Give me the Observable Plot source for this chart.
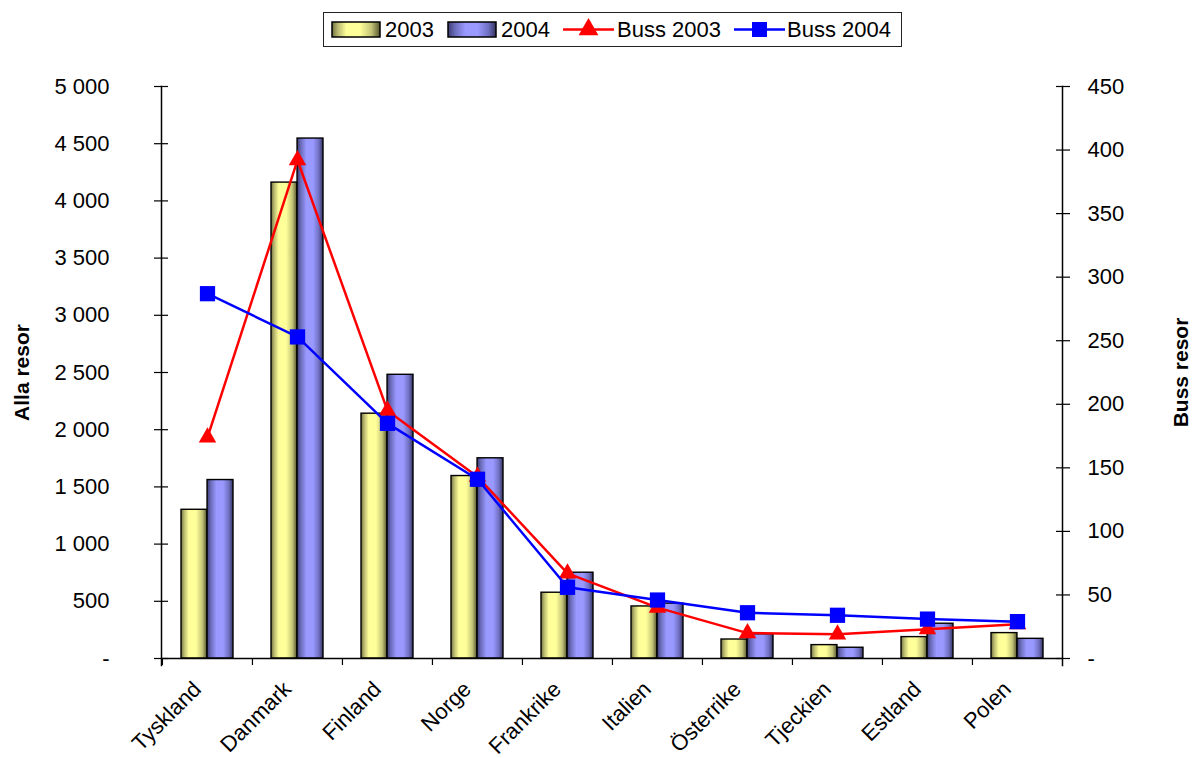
<!DOCTYPE html>
<html><head><meta charset="utf-8">
<script src="https://cdn.jsdelivr.net/npm/d3@7"></script>
<script src="https://cdn.jsdelivr.net/npm/@observablehq/plot@0.6"></script>
<style>
body{margin:0;background:#fff;font-family:"Liberation Sans",Arial,sans-serif;}
#legend{position:relative;height:55px;width:1192px;}
#legend .box{position:absolute;left:323px;top:12px;width:579px;height:35px;border:1.5px solid #222;box-sizing:border-box;background:#fff;}
#legend .it{position:absolute;top:0;height:100%;display:flex;align-items:center;font-size:22px;color:#000;}
#legend svg{display:block;}
</style></head>
<body>
<div id="legend"></div>
<div id="chart"></div>
<script>
const countries = ["Tyskland","Danmark","Finland","Norge","Frankrike","Italien","Österrike","Tjeckien","Estland","Polen"];
const alla2003 = [1300, 4160, 2140, 1595, 575, 455, 166, 117, 187, 222];
const alla2004 = [1560, 4545, 2480, 1750, 750, 480, 212, 94, 304, 172];
const buss2003 = [174, 392, 195, 143, 67, 40, 20, 19, 23, 27];
const buss2004 = [287, 253, 185, 141, 56, 46, 36, 34, 31, 29];
const leftTicks = [0, 500, 1000, 1500, 2000, 2500, 3000, 3500, 4000, 4500, 5000];
const rightTicks = [0, 50, 100, 150, 200, 250, 300, 350, 400, 450];
const seriesNames = ["2003", "2004", "Buss 2003", "Buss 2004"];

const leftMax = 5000, rightMax = 450;
const k = leftMax / rightMax;
const loc = d3.formatLocale({decimal: ",", thousands: " ", grouping: [3], currency: ["", ""]});
const fmt = v => v === 0 ? "-" : loc.format(",")(v);

const data = countries.map((c, i) => ({country: c, a3: alla2003[i], a4: alla2004[i], b3: buss2003[i], b4: buss2004[i]}));

const W = 1192, H = 703;
const mL = 161, mR = 130, mT = 31, mB = 100;
const band = (W - mL - mR) / countries.length;

const chart = Plot.plot({
  width: W, height: H,
  marginLeft: mL, marginRight: mR, marginTop: mT, marginBottom: mB,
  style: {fontFamily: "'Liberation Sans', Arial, sans-serif", fontSize: "22px", color: "#000", background: "#fff", overflow: "visible"},
  x: {type: "band", domain: countries, padding: 0, label: null},
  y: {domain: [0, leftMax], label: null},
  marks: [
    Plot.barY(data, {x: "country", y: "a3", fill: "url(#gY)", stroke: "#000", strokeWidth: 1.4, insetLeft: 19, insetRight: band/2}),
    Plot.barY(data, {x: "country", y: "a4", fill: "url(#gB)", stroke: "#000", strokeWidth: 1.4, insetLeft: band/2, insetRight: 19}),
    Plot.frame({anchor: "left", insetBottom: -7, strokeWidth: 1.5}),
    Plot.frame({anchor: "right", insetBottom: -7, strokeWidth: 1.5}),
    Plot.frame({anchor: "bottom", strokeWidth: 1.5}),
    Plot.axisX({ticks: countries, tickSize: 7, text: null, label: null, dx: -band/2, strokeWidth: 1.2}),
    Plot.text(countries, {x: d => d, y: 0, text: d => d, rotate: -45, textAnchor: "end", dx: -10, dy: 27, fontSize: 22}),
    Plot.axisY({anchor: "left", ticks: leftTicks, tickSize: 14, dx: 7, text: null, label: null, strokeWidth: 1.2}),
    Plot.axisY({anchor: "left", ticks: leftTicks, tickSize: 0, tickPadding: 52, tickFormat: fmt, label: null}),
    Plot.axisY({anchor: "right", ticks: rightTicks.map(v => v * k), tickSize: 14, dx: -7, text: null, label: null, strokeWidth: 1.2}),
    Plot.axisY({anchor: "right", ticks: rightTicks.map(v => v * k), tickSize: 0, tickPadding: 25, tickFormat: d => fmt(Math.round(d / k)), label: null}),
    Plot.line(data, {x: "country", y: d => d.b3 * k, stroke: "#ff0000", strokeWidth: 2.5}),
    Plot.dot(data, {x: "country", y: d => d.b3 * k, symbol: "triangle", r: 6.5, fill: "#ff0000", stroke: "none"}),
    Plot.line(data, {x: "country", y: d => d.b4 * k, stroke: "#0000ff", strokeWidth: 2.5}),
    Plot.dot(data, {x: "country", y: d => d.b4 * k, symbol: "square", r: 8.6, fill: "#0000ff", stroke: "none"}),
    Plot.text(["Alla resor"], {frameAnchor: "left", textAnchor: "middle", dx: -139, rotate: -90, fontWeight: "bold", fontSize: 21}),
    Plot.text(["Buss resor"], {frameAnchor: "right", textAnchor: "middle", dx: 119, rotate: -90, fontWeight: "bold", fontSize: 21})
  ]
});

function addDefs(svgSel) {
  const defs = svgSel.insert("defs", ":first-child");
  const gy = defs.append("linearGradient").attr("id", "gY").attr("x1", "0").attr("x2", "1").attr("y1", "0").attr("y2", "0");
  [["0%", "#6e6e40"], ["12%", "#b8b870"], ["30%", "#ffff99"], ["58%", "#ffff99"], ["82%", "#c4c478"], ["100%", "#55552e"]]
    .forEach(([o, c]) => gy.append("stop").attr("offset", o).attr("stop-color", c));
  const gb = defs.append("linearGradient").attr("id", "gB").attr("x1", "0").attr("x2", "1").attr("y1", "0").attr("y2", "0");
  [["0%", "#3c3c72"], ["14%", "#6a6ab8"], ["36%", "#9999ff"], ["62%", "#9999ff"], ["84%", "#7070c2"], ["100%", "#33335f"]]
    .forEach(([o, c]) => gb.append("stop").attr("offset", o).attr("stop-color", c));
}
addDefs(d3.select(chart));
document.getElementById("chart").appendChild(chart);

// Legend (HTML above the SVG)
const leg = d3.select("#legend");
leg.append("div").attr("class", "box");
const lsvg = leg.append("svg").attr("width", 0).attr("height", 0).style("position", "absolute");
addDefs(lsvg);
const items = [
  {name: seriesNames[0], kind: "bar", fill: "url(#gY)", left: 331, tx: 385},
  {name: seriesNames[1], kind: "bar", fill: "url(#gB)", left: 447, tx: 501},
  {name: seriesNames[2], kind: "line", color: "#ff0000", sym: d3.symbolTriangle, size: 170, left: 563, tx: 617},
  {name: seriesNames[3], kind: "line", color: "#0000ff", sym: d3.symbolSquare, size: 225, left: 734, tx: 787}
];
items.forEach(it => {
  const s = leg.append("div").attr("class", "it").style("left", it.left + "px").style("top", "12px").style("height", "35px")
    .append("svg").attr("width", 51).attr("height", 35);
  if (it.kind === "bar") {
    s.append("rect").attr("x", 1).attr("y", 10).attr("width", 48).attr("height", 15).attr("fill", it.fill).attr("stroke", "#000").attr("stroke-width", 1.5);
  } else {
    s.append("line").attr("x1", 0).attr("x2", 51).attr("y1", 17.5).attr("y2", 17.5).attr("stroke", it.color).attr("stroke-width", 2.5);
    s.append("path").attr("d", d3.symbol(it.sym, it.size)()).attr("transform", "translate(25.5,17.5)").attr("fill", it.color);
  }
  leg.append("div").attr("class", "it").style("left", it.tx + "px").style("top", "12px").style("height", "35px").text(it.name);
});
</script>
</body></html>
